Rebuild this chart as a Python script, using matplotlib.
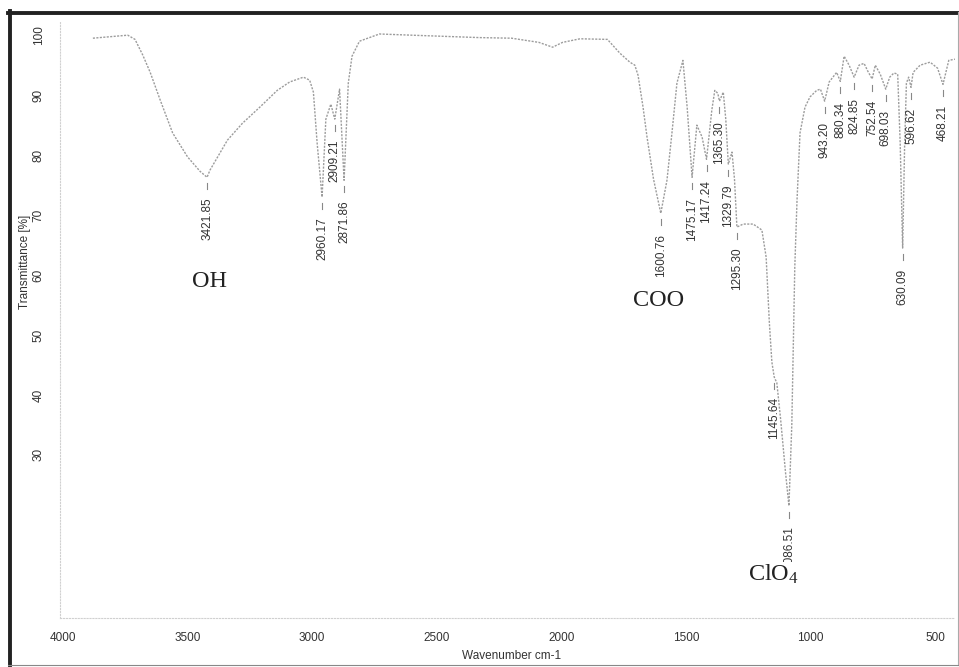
import matplotlib
matplotlib.use('Agg')
import matplotlib.pyplot as plt
from matplotlib.lines import Line2D

plt.rcParams['font.family'] = ['Liberation Sans', 'DejaVu Sans']
plt.rcParams['mathtext.fontset'] = 'custom'
plt.rcParams['mathtext.rm'] = 'Liberation Serif'
plt.rcParams['mathtext.it'] = 'Liberation Serif:italic'

# spectrum (wavenumber cm-1, transmittance %)
wavenumber = [3880, 3740, 3711, 3680, 3650, 3610, 3560, 3500, 3450, 3421.85,
              3410, 3340, 3280, 3210, 3140, 3090, 3035, 3010, 2995, 2980,
              2960.17, 2945, 2925, 2909.21, 2890, 2871.86, 2855, 2840, 2810, 2730,
              2600, 2330, 2200, 2090, 2035, 1995, 1925, 1815, 1765, 1725,
              1705, 1692, 1672, 1656, 1630, 1600.76, 1576, 1556, 1536, 1512,
              1495, 1475.17, 1456, 1435, 1417.24, 1396, 1384, 1372, 1365.30, 1350,
              1340, 1329.79, 1315, 1305, 1295.30, 1270, 1230, 1195, 1178, 1165,
              1155, 1145.64, 1135, 1120, 1100, 1086.51, 1075, 1063, 1054, 1042,
              1022, 1002, 975, 960, 943.20, 925, 895, 880.34, 865, 845,
              824.85, 805, 785, 770, 752.54, 740, 720, 698.03, 682, 665,
              650, 640, 630.09, 622, 615, 606, 596.62, 588, 560, 520,
              490, 468.21, 445, 420]
transmittance = [99.5, 100.0, 99.3, 96.7, 93.8, 89.2, 83.7, 79.7, 77.3, 76.3,
                 77.5, 82.5, 85.3, 88.0, 90.8, 92.2, 93.0, 92.5, 90.5, 82.0,
                 73.0, 86.0, 88.5, 86.0, 91.0, 75.8, 92.0, 96.5, 99.0, 100.2,
                 100.0, 99.6, 99.5, 98.8, 98.0, 98.8, 99.4, 99.3, 97.0, 95.5,
                 95.0, 93.3, 88.0, 83.0, 76.0, 70.3, 75.8, 83.7, 92.0, 95.8,
                 88.0, 76.3, 85.0, 83.0, 79.3, 87.5, 90.8, 90.3, 89.0, 90.5,
                 86.0, 78.5, 80.5, 76.0, 68.0, 68.5, 68.5, 67.5, 63.0, 52.0,
                 45.5, 43.0, 42.0, 36.0, 27.0, 21.5, 35.0, 61.3, 72.5, 83.7,
                 88.0, 89.7, 90.8, 91.0, 89.0, 92.2, 93.8, 92.3, 96.5, 95.0,
                 93.0, 95.0, 95.3, 94.0, 92.7, 95.0, 93.5, 91.0, 93.0, 93.7,
                 93.5, 82.0, 64.5, 82.0, 92.0, 93.0, 91.3, 93.8, 95.0, 95.5,
                 94.5, 91.8, 95.8, 96.0]

peaks = [3421.85, 2960.17, 2909.21, 2871.86, 1600.76, 1475.17, 1417.24, 1365.30,
         1329.79, 1295.30, 1145.64, 1086.51, 943.20, 880.34, 824.85, 752.54,
         698.03, 630.09, 596.62, 468.21]

groups = ['OH', 'COO', r'ClO$_\mathrm{4}$']
group_pos = [(3414, 59.0), (1608, 55.8), (1150, 10.0)]

xticks = [4000, 3500, 3000, 2500, 2000, 1500, 1000, 500]
yticks = [30, 40, 50, 60, 70, 80, 90, 100]

W, H = 959, 667
fig = plt.figure(figsize=(W / 100, H / 100), dpi=100)
ax = fig.add_axes([60 / W, 1 - 618 / H, 895 / W, 596 / H])

ax.plot(wavenumber, transmittance, color='#9c9c9c', lw=1.0, ls=(0, (1.5, 1)))

for p in peaks:
    t = transmittance[wavenumber.index(p)]
    ax.plot([p, p], [t - 1.0, t - 2.0], color='#888888', lw=0.8)
    ax.text(p, t - 3.4, '%.2f' % p, rotation=90, ha='center', va='top',
            fontsize=8.5, color='#333333')

for g, (x, y) in zip(groups, group_pos):
    ax.text(x, y, g, ha='center', va='center', fontsize=17.5,
            family=['Liberation Serif'], color='#222222',
            bbox=dict(facecolor='white', edgecolor='none', pad=1.0) if 'ClO' in g else None,
            zorder=5)

ax.set_xlim(4012, 420)
ax.set_ylim(2.8, 102.2)
ax.set_xticks(xticks)
ax.set_yticks(yticks)
ax.tick_params(axis='x', length=0, pad=10, labelsize=8.5, labelcolor='#333333')
ax.tick_params(axis='y', length=0, pad=11, labelsize=8.5, labelcolor='#333333')
for lab in ax.get_yticklabels():
    lab.set_rotation(90)
    lab.set_va('center')
    lab.set_ha('right')

for s in ['top', 'right']:
    ax.spines[s].set_visible(False)
for s in ['left', 'bottom']:
    ax.spines[s].set_color('#d0d0d0')
    ax.spines[s].set_linestyle(':')
    ax.spines[s].set_linewidth(0.8)

fig.text(25 / W, 1 - 262 / H, 'Transmittance [%]', rotation=90, ha='center',
         va='center', fontsize=8.5, color='#333333')
fig.text(512 / W, 1 - 656 / H, 'Wavenumber cm-1', ha='center', va='center',
         fontsize=8.5, color='#333333')

# scanned page frame
fig.add_artist(Line2D([9.5 / W, 9.5 / W], [1 - 11 / H, 1 - 665 / H],
                      transform=fig.transFigure, color='#222222', lw=2.8))
fig.add_artist(Line2D([8 / W, 958 / W], [1 - 12.5 / H, 1 - 12.5 / H],
                      transform=fig.transFigure, color='#222222', lw=2.8))
fig.add_artist(Line2D([957.5 / W, 957.5 / W], [1 - 12 / H, 1 - 665 / H],
                      transform=fig.transFigure, color='#aaaaaa', lw=0.8))
fig.add_artist(Line2D([8 / W, 958 / W], [1 - 665 / H, 1 - 665 / H],
                      transform=fig.transFigure, color='#888888', lw=0.8))

fig.savefig('out.png', dpi=100)
